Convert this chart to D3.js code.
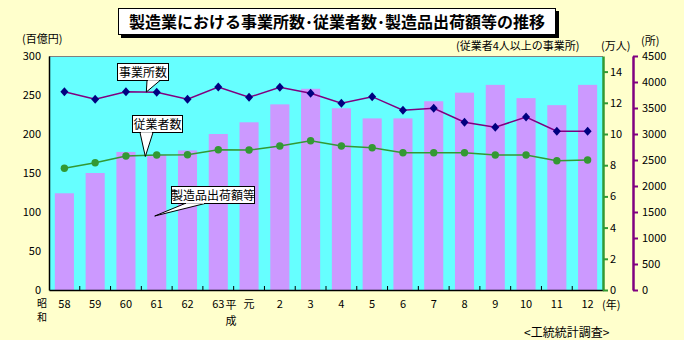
<!DOCTYPE html>
<html>
<head>
<meta charset="utf-8">
<script src="https://cdn.jsdelivr.net/npm/d3@7"></script>
<style>
  body { margin: 0; background: #FFFFCC; }
  svg text { font-family: "Noto Sans CJK JP", sans-serif; fill: #000; }
</style>
</head>
<body>
<svg id="chart" width="684" height="340"></svg>
<script>
// 年次（昭和58年〜平成12年）
const years = ["58","59","60","61","62","63","元","2","3","4","5","6","7","8","9","10","11","12"];
// 製造品出荷額等（百億円）
const shipments = [124,150,177,173,179,200,215,238,258,233,220,220,242,253,263,246,237,263];
// 事業所数（所）
const establishments = [3813,3667,3813,3802,3667,3904,3706,3898,3783,3590,3718,3456,3494,3225,3129,3327,3052,3052];
// 従業者数（万人）
const employees = [7.80,8.16,8.59,8.65,8.67,8.99,8.97,9.23,9.57,9.23,9.12,8.80,8.80,8.80,8.65,8.65,8.29,8.33];

const shipTicks = [0,50,100,150,200,250,300];
const empTicks = [0,2,4,6,8,10,12,14];
const estTicks = [0,500,1000,1500,2000,2500,3000,3500,4000,4500];

const svg = d3.select("#chart");
const L = 49, R = 603, T = 56, B = 290;

const x = d3.scaleBand().domain(years).range([L, R]).paddingInner(0.38).paddingOuter(0.19);
const yShip = d3.scaleLinear().domain([0, 300]).range([B, T]);
const yEmp = d3.scaleLinear().domain([0, 15]).range([B, T]);
const yEst = d3.scaleLinear().domain([0, 4500]).range([B, T]);
const cx = d => x(d) + x.bandwidth() / 2;

// title
const title = svg.append("g");
title.append("rect").attr("x", 121).attr("y", 11).attr("width", 438).attr("height", 27).attr("fill", "#000");
title.append("rect").attr("x", 118.5).attr("y", 8.5).attr("width", 437).attr("height", 26)
  .attr("fill", "#fff").attr("stroke", "#000").attr("stroke-width", 1);
title.append("text").attr("x", 337).attr("y", 27.5).attr("text-anchor", "middle")
  .style("font-size", "16px").style("font-weight", "bold")
  .text("製造業における事業所数･従業者数･製造品出荷額等の推移");

// plot area
svg.append("rect").attr("x", L).attr("y", T).attr("width", R - L).attr("height", B - T).attr("fill", "#66FFFF");
svg.append("line").attr("x1", L).attr("x2", R).attr("y1", T + 0.5).attr("y2", T + 0.5).attr("stroke", "#808080");

// bars
svg.append("g").selectAll("rect").data(years).join("rect")
  .attr("x", d => x(d)).attr("width", x.bandwidth())
  .attr("y", (d, i) => yShip(shipments[i]))
  .attr("height", (d, i) => B - yShip(shipments[i]))
  .attr("fill", "#CC99FF");

// establishments line
svg.append("path").datum(establishments)
  .attr("fill", "none").attr("stroke", "#800080").attr("stroke-width", 1.5)
  .attr("d", d3.line().x((d, i) => cx(years[i])).y(d => yEst(d)));
svg.append("g").selectAll("path").data(establishments).join("path")
  .attr("transform", (d, i) => `translate(${cx(years[i])},${yEst(d)})`)
  .attr("d", "M0,-4.5L4,0L0,4.5L-4,0Z").attr("fill", "#000080");

// employees line
svg.append("path").datum(employees)
  .attr("fill", "none").attr("stroke", "#339933").attr("stroke-width", 1.5)
  .attr("d", d3.line().x((d, i) => cx(years[i])).y(d => yEmp(d)));
svg.append("g").selectAll("circle").data(employees).join("circle")
  .attr("cx", (d, i) => cx(years[i])).attr("cy", d => yEmp(d)).attr("r", 3.7)
  .attr("fill", "#339933");

// left axis
const gl = svg.append("g").attr("transform", `translate(${L},0)`)
  .call(d3.axisLeft(yShip).tickValues(shipTicks).tickSize(0).tickPadding(8));
gl.select(".domain").attr("stroke", "#000").attr("stroke-width", 1.5);
gl.selectAll("text").style("font-size", "11px").style("font-family", "Noto Sans CJK JP");

// bottom axis
const gb = svg.append("g").attr("transform", `translate(0,${B})`)
  .call(d3.axisBottom(x).tickSize(0).tickPadding(10));
gb.select(".domain").attr("stroke", "#000").attr("stroke-width", 1.5);
gb.selectAll("text").style("font-size", "11px").style("font-family", "Noto Sans CJK JP");
// category boundary ticks
svg.append("g").selectAll("line").data(d3.range(1, years.length)).join("line")
  .attr("x1", i => L + i * x.step()).attr("x2", i => L + i * x.step())
  .attr("y1", B).attr("y2", B - 4).attr("stroke", "#000");

// employees axis (right, green)
const gg = svg.append("g").attr("transform", `translate(${R},0)`)
  .call(d3.axisRight(yEmp).tickValues(empTicks).tickSize(5).tickSizeOuter(0).tickPadding(2));
gg.select(".domain").attr("stroke", "#339933").attr("stroke-width", 2.5);
gg.selectAll(".tick line").attr("stroke", "#339933").attr("stroke-width", 2);
gg.selectAll("text").style("font-size", "11px").style("font-family", "Noto Sans CJK JP");

// establishments axis (far right, purple)
const gp = svg.append("g").attr("transform", `translate(633,0)`)
  .call(d3.axisRight(yEst).tickValues(estTicks).tickFormat(d3.format("d"))
    .tickSize(5).tickSizeOuter(0).tickPadding(4));
gp.select(".domain").attr("stroke", "#800080").attr("stroke-width", 2.5);
gp.selectAll(".tick line").attr("stroke", "#800080").attr("stroke-width", 2);
gp.selectAll("text").style("font-size", "11px").style("font-family", "Noto Sans CJK JP");

// unit labels
const small = (t, xx, yy, anchor, size) => svg.append("text").attr("x", xx).attr("y", yy)
  .attr("text-anchor", anchor || "start").style("font-size", (size || 11) + "px").text(t);
small("(百億円)", 22, 43);
small("(従業者4人以上の事業所)", 456, 50);
small("(万人)", 601, 50);
small("(所)", 641, 45);
small("昭", 42, 307, "middle", 10);
small("和", 42, 321, "middle", 10);
small("平", 231, 309, "middle");
small("成", 231, 325, "middle");
small("(年)", 602, 309);
svg.append("text").attr("x", 524).attr("y", 337).style("font-size", "12px").text("<工統統計調査>");

// callouts
function callout(label, bx, by, bw, bh, tail) {
  const g = svg.append("g");
  g.append("path").attr("d", `M${tail[0][0]},${tail[0][1]}L${tail[1][0]},${tail[1][1]}L${tail[2][0]},${tail[2][1]}Z`)
    .attr("fill", "#fff").attr("stroke", "#000").attr("stroke-width", 1);
  g.append("rect").attr("x", bx + 0.5).attr("y", by + 0.5).attr("width", bw).attr("height", bh)
    .attr("fill", "#fff").attr("stroke", "#000").attr("stroke-width", 1);
  // cover the tail root
  g.append("line").attr("x1", tail[0][0] + 1).attr("x2", tail[2][0] - 1)
    .attr("y1", by + bh).attr("y2", by + bh).attr("stroke", "#fff").attr("stroke-width", 1.5);
  g.append("text").attr("x", bx + bw / 2 + 0.5).attr("y", by + bh / 2 + 5)
    .attr("text-anchor", "middle").style("font-size", "12px").text(label);
}
const mid01 = (cx(years[2]) + cx(years[3])) / 2;
callout("事業所数", 117, 63, 51, 17,
  [[147, 80.5], [mid01 + 5, yEst((establishments[2] + establishments[3]) / 2)], [160, 80.5]]);
callout("従業者数", 132, 115, 50, 17,
  [[140, 132.5], [mid01 + 4, yEmp((employees[2] + employees[3]) / 2) + 1], [153, 132.5]]);
callout("製造品出荷額等", 171, 186, 83, 17,
  [[185, 203.5], [cx(years[3]) - 2, 216], [205, 203.5]]);
</script>
</body>
</html>
